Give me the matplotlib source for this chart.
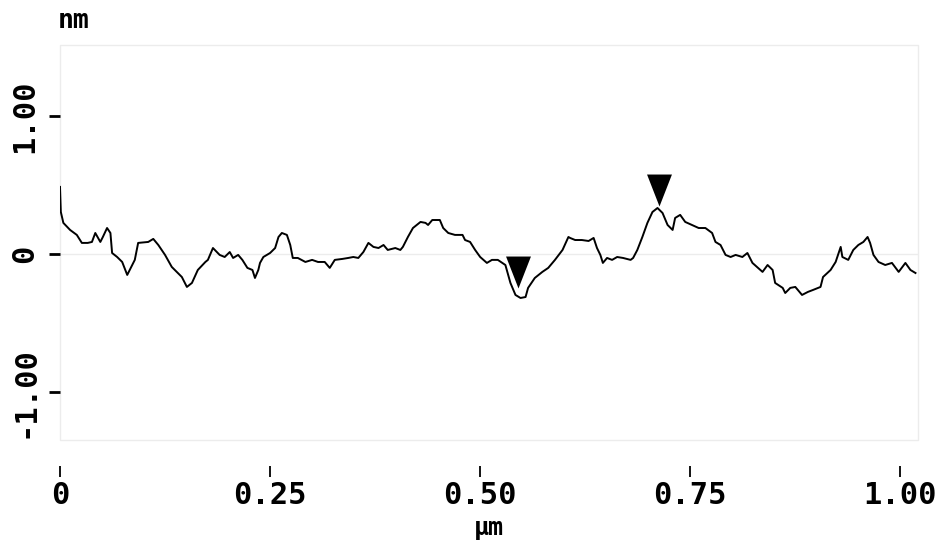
import matplotlib
matplotlib.use("Agg")
import matplotlib.pyplot as plt
from matplotlib.patches import Rectangle
from matplotlib.path import Path

# Profile data (x in µm, height in nm)
profile_x = [
    0.000, 0.001, 0.004, 0.012, 0.020, 0.026, 0.033, 0.038, 0.042, 0.048,
    0.051, 0.056, 0.060, 0.062, 0.068, 0.074, 0.080, 0.083, 0.089, 0.093,
    0.105, 0.111, 0.117, 0.125, 0.133, 0.145, 0.151, 0.157, 0.164, 0.173,
    0.176, 0.182, 0.190, 0.196, 0.202, 0.206, 0.212, 0.217, 0.223, 0.229,
    0.232, 0.236, 0.238, 0.242, 0.250, 0.256, 0.260, 0.264, 0.270, 0.274,
    0.277, 0.283, 0.292, 0.300, 0.307, 0.315, 0.321, 0.327, 0.336, 0.343,
    0.349, 0.355, 0.361, 0.367, 0.373, 0.379, 0.385, 0.390, 0.399, 0.405,
    0.408, 0.414, 0.420, 0.429, 0.435, 0.438, 0.443, 0.452, 0.456, 0.462,
    0.470, 0.479, 0.482, 0.488, 0.494, 0.500, 0.508, 0.514, 0.521, 0.530,
    0.536, 0.542, 0.548, 0.554, 0.557, 0.565, 0.574, 0.581, 0.589, 0.598,
    0.605, 0.607, 0.613, 0.621, 0.629, 0.635, 0.639, 0.643, 0.646, 0.651,
    0.657, 0.663, 0.670, 0.679, 0.682, 0.687, 0.693, 0.699, 0.705, 0.711,
    0.717, 0.723, 0.729, 0.732, 0.738, 0.744, 0.752, 0.760, 0.768, 0.776,
    0.780, 0.786, 0.792, 0.798, 0.804, 0.812, 0.818, 0.824, 0.836, 0.842,
    0.848, 0.851, 0.860, 0.863, 0.869, 0.875, 0.883, 0.890, 0.896, 0.905,
    0.908, 0.917, 0.923, 0.929, 0.931, 0.938, 0.944, 0.950, 0.956, 0.961,
    0.964, 0.968, 0.974, 0.982, 0.990, 0.998, 1.006, 1.012, 1.018,
]
profile_y = [
    0.486, 0.304, 0.225, 0.174, 0.138, 0.080, 0.080, 0.087, 0.152, 0.087,
    0.123, 0.188, 0.152, 0.007, -0.022, -0.058, -0.152, -0.116, -0.043, 0.080,
    0.087, 0.109, 0.065, -0.007, -0.094, -0.167, -0.239, -0.210, -0.116, -0.058,
    -0.043, 0.043, -0.007, -0.022, 0.014, -0.029, -0.007, -0.043, -0.101, -0.116,
    -0.174, -0.116, -0.065, -0.022, 0.007, 0.043, 0.123, 0.152, 0.138, 0.065,
    -0.029, -0.029, -0.058, -0.043, -0.058, -0.058, -0.101, -0.043, -0.036, -0.029,
    -0.022, -0.029, 0.014, 0.080, 0.051, 0.043, 0.065, 0.029, 0.043, 0.029,
    0.051, 0.123, 0.188, 0.232, 0.225, 0.210, 0.246, 0.246, 0.188, 0.152,
    0.138, 0.138, 0.101, 0.087, 0.029, -0.022, -0.065, -0.043, -0.043, -0.080,
    -0.210, -0.297, -0.319, -0.312, -0.246, -0.174, -0.130, -0.101, -0.043, 0.029,
    0.123, 0.116, 0.101, 0.101, 0.094, 0.116, 0.043, -0.007, -0.065, -0.029,
    -0.043, -0.022, -0.029, -0.043, -0.029, 0.029, 0.123, 0.225, 0.304, 0.333,
    0.297, 0.210, 0.174, 0.261, 0.283, 0.232, 0.210, 0.188, 0.188, 0.152,
    0.087, 0.065, -0.007, -0.022, -0.007, -0.022, 0.007, -0.065, -0.130, -0.080,
    -0.116, -0.210, -0.246, -0.283, -0.246, -0.239, -0.297, -0.275, -0.261, -0.239,
    -0.167, -0.116, -0.058, 0.051, -0.022, -0.043, 0.029, 0.065, 0.087, 0.123,
    0.080, -0.007, -0.058, -0.080, -0.065, -0.130, -0.065, -0.116, -0.138,
]

# Cursor markers (x in µm, y in nm)
cursor_x = [0.545, 0.713]
cursor_y = [-0.134, 0.464]

x_ticks = [0, 0.25, 0.50, 0.75, 1.00]
x_tick_labels = ["0", "0.25", "0.50", "0.75", "1.00"]
y_ticks = [-1.0, 0.0, 1.0]
y_tick_labels = ["-1.00", "0", "1.00"]

FONT = "DejaVu Sans Mono"

fig = plt.figure(figsize=(9.38, 5.44), dpi=100)
ax = fig.add_axes([60 / 938, 104 / 544, 858 / 938, 395 / 544])
ax.set_xlim(0, 1.021)
ax.set_ylim(-1.348, 1.514)

# faint frame and zero line
frame_col = "#ececec"
ax.add_patch(Rectangle((0, 0), 1, 1, transform=ax.transAxes, fill=False,
                       edgecolor=frame_col, linewidth=1.0, clip_on=False, zorder=0))
ax.axhline(0, color=frame_col, linewidth=1.0, zorder=0)

ax.plot(profile_x, profile_y, color="black", linewidth=1.4, zorder=3)

tri = Path([(-0.39, 0.5), (0.39, 0.5), (0.0, -0.5), (-0.39, 0.5)],
           [Path.MOVETO, Path.LINETO, Path.LINETO, Path.CLOSEPOLY])
ax.scatter(cursor_x, cursor_y, marker=tri, s=23 ** 2, color="black", zorder=4,
           linewidths=0)

for side in ["top", "right", "left"]:
    ax.spines[side].set_visible(False)
ax.spines["bottom"].set_position(("outward", 18.7))
ax.spines["bottom"].set_color("none")

ax.set_xticks(x_ticks)
ax.set_xticklabels(x_tick_labels, fontfamily=FONT, fontweight="bold", fontsize=22)
ax.set_yticks(y_ticks)
ax.set_yticklabels(y_tick_labels, fontfamily=FONT, fontweight="bold", fontsize=22,
                   rotation=90, va="center")
ax.tick_params(axis="x", direction="out", length=8.0, width=1.3, color="black", pad=3)
ax.tick_params(axis="y", direction="out", length=8.0, width=2.0, color="black", pad=7)

ax.set_xlabel("µm", fontfamily=FONT, fontweight="bold", fontsize=18, labelpad=4)
fig.text(58 / 938, 1 - 21 / 544, "nm", fontfamily=FONT, fontweight="bold",
         fontsize=19, ha="left", va="center")

fig.savefig("out.png", dpi=100, facecolor="white")
